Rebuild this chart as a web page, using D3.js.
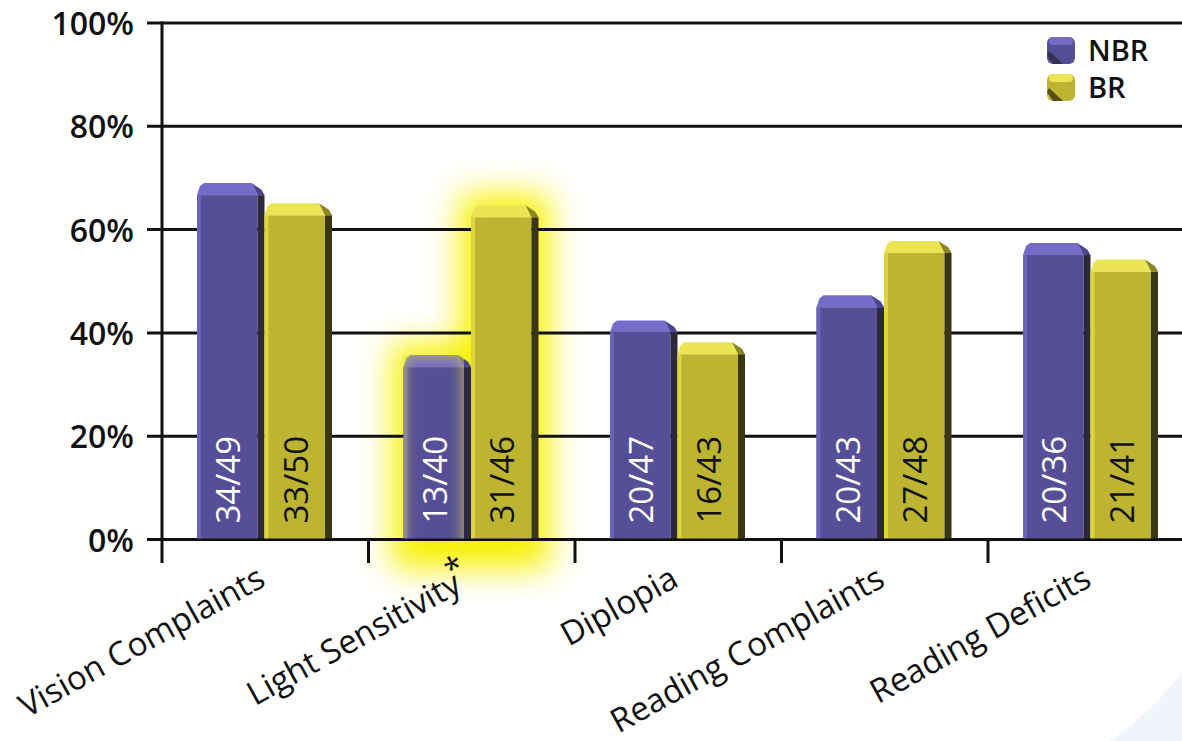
<!DOCTYPE html>
<html><head><meta charset="utf-8">
<script src="https://cdn.jsdelivr.net/npm/d3@7"></script>
<style>html,body{margin:0;padding:0;background:#fff;} svg{display:block;}</style>
</head><body>
<svg id="chart" width="1182" height="741"></svg>
<script>
// ---- data ----
const categories = ["Vision Complaints", "Light Sensitivity", "Diplopia", "Reading Complaints", "Reading Deficits"];
const categorySuffix = ["", "*", "", "", ""];
const series = ["NBR", "BR"];
const nbrValues = [69.0, 35.7, 42.4, 47.3, 57.4];
const brValues  = [65.1, 64.7, 38.2, 57.8, 54.2];
const nbrLabels = ["34/49", "13/40", "20/47", "20/43", "20/36"];
const brLabels  = ["33/50", "31/46", "16/43", "27/48", "21/41"];
const yTicks = [0, 20, 40, 60, 80, 100];
const highlighted = ["Light Sensitivity"];

// ---- setup ----
const W = 1182, H = 741;
const svg = d3.select("#chart");
const defs = svg.append("defs");
const FONT = "'Open Sans', 'Noto Sans', sans-serif";

const gf = defs.append("filter").attr("id", "glow")
  .attr("x", "-80%").attr("y", "-40%").attr("width", "260%").attr("height", "180%");
gf.append("feMorphology").attr("operator", "dilate").attr("radius", 11).attr("in", "SourceGraphic").attr("result", "d");
gf.append("feGaussianBlur").attr("in", "d").attr("stdDeviation", 16);

const sf = defs.append("filter").attr("id", "soft").attr("x", "-20%").attr("y", "-20%").attr("width", "140%").attr("height", "140%");
sf.append("feGaussianBlur").attr("stdDeviation", 6);

const x = d3.scaleBand().domain(categories).range([162, 162 + 5 * 206.5]).padding(0);
const xi = d3.scaleBand().domain(series).range([35, 170]).padding(0);
const y = d3.scaleLinear().domain([0, 100]).range([539.5, 23]);

const palettes = {
  NBR: {front: "#564f97", left: "#6b63b7", top: "#746cc6", side: "#2c2a3a", corner: "#4b4590", text: "#ffffff"},
  BR:  {front: "#bdb532", left: "#ddd53c", top: "#ebe454", side: "#393612", corner: "#8d8620", text: "#111111"}
};
const valuesOf = s => s === "NBR" ? nbrValues : brValues;
const labelsOf = s => s === "NBR" ? nbrLabels : brLabels;

// background swoosh (decoration)
svg.append("path")
  .attr("d", "M1182,672 C1165,695 1140,720 1110,741 L1182,741 Z")
  .attr("fill", "#f1f5fb");

// ---- glow behind highlighted group ----
const glowG = svg.append("g").attr("filter", "url(#glow)");
categories.forEach((c, i) => {
  if (!highlighted.includes(c)) return;
  series.forEach(s => {
    const v = valuesOf(s)[i];
    glowG.append("rect")
      .attr("x", x(c) + xi(s)).attr("y", y(v))
      .attr("width", xi.bandwidth()).attr("height", y(0) - y(v) + 18)
      .attr("fill", "#f8f000");
  });
});

// ---- gridlines ----
const grid = svg.append("g");
grid.selectAll("line").data(yTicks).join("line")
  .attr("x1", 147).attr("x2", W)
  .attr("y1", d => y(d)).attr("y2", d => y(d))
  .attr("stroke", "#111").attr("stroke-width", 3);

// y axis vertical line
svg.append("line").attr("x1", 162).attr("x2", 162).attr("y1", y(100) - 1.5).attr("y2", 563)
  .attr("stroke", "#111").attr("stroke-width", 3);

// category boundary ticks
svg.append("g").selectAll("line").data(categories.slice(1).concat(["__end"])).join("line")
  .attr("x1", d => d === "__end" ? x.range()[1] : x(d))
  .attr("x2", d => d === "__end" ? x.range()[1] : x(d))
  .attr("y1", y(0)).attr("y2", 563)
  .attr("stroke", "#111").attr("stroke-width", 3);

// y axis labels
const yAxis = svg.append("g").attr("transform", "translate(162,0)")
  .call(d3.axisLeft(y).tickValues(yTicks).tickFormat(d => d + "%").tickSize(0).tickPadding(28));
yAxis.select(".domain").remove();
yAxis.selectAll("text")
  .attr("font-family", FONT).attr("font-weight", 600).attr("font-size", 32)
  .attr("fill", "#111").attr("dy", "0.36em");

// ---- bars ----
const BEV = 12, SIDE = 7;
function drawBar(g, x0, w, t, b, p) {
  const fw = w - SIDE;
  g.append("rect").attr("x", x0).attr("y", t + BEV).attr("width", fw).attr("height", b - t - BEV).attr("fill", p.front);
  g.append("rect").attr("x", x0).attr("y", t + BEV).attr("width", 4).attr("height", b - t - BEV).attr("fill", p.left);
  g.append("rect").attr("x", x0 + fw).attr("y", t + BEV).attr("width", SIDE).attr("height", b - t - BEV).attr("fill", p.side);
  g.append("polygon")
    .attr("points", [[x0, t + BEV], [x0 + 3, t + 3], [x0 + 7, t], [x0 + fw - 6, t], [x0 + fw, t + BEV]].map(q => q.join(",")).join(" "))
    .attr("fill", p.top);
  g.append("polygon")
    .attr("points", [[x0 + fw - 6, t], [x0 + w - 3, t + BEV * 0.55], [x0 + w, t + BEV], [x0 + fw, t + BEV]].map(q => q.join(",")).join(" "))
    .attr("fill", p.corner);
}

const barsG = svg.append("g");
categories.forEach((c, i) => {
  const g = barsG.append("g");
  series.forEach(s => {
    const v = valuesOf(s)[i];
    const x0 = x(c) + xi(s), w = xi.bandwidth();
    drawBar(g, x0, w, y(v), y(0), palettes[s]);
    if (highlighted.includes(c) && s === "NBR") {
      const cid = "clip" + i;
      defs.append("clipPath").attr("id", cid).append("rect")
        .attr("x", x0).attr("y", y(v)).attr("width", w - SIDE).attr("height", y(0) - y(v));
      g.append("g").attr("clip-path", `url(#${cid})`).append("rect")
        .attr("x", x0 - 4).attr("y", y(v) - 4).attr("width", w - SIDE + 8).attr("height", y(0) - y(v) + 30)
        .attr("fill", "none").attr("stroke", "#e6df3a").attr("stroke-width", 14)
        .attr("opacity", 0.55).attr("filter", "url(#soft)");
    }
  });
  series.forEach(s => {
    const x0 = x(c) + xi(s), w = xi.bandwidth();
    const cx = x0 + (w - SIDE) / 2 + 1, by = y(0) - 16;
    g.append("text")
      .attr("transform", `translate(${cx},${by}) rotate(-90)`)
      .attr("dy", "0.36em")
      .attr("font-family", FONT).attr("font-size", 33)
      .attr("fill", palettes[s].text)
      .text(labelsOf(s)[i]);
  });
});

// baseline on top
svg.append("line").attr("x1", 147).attr("x2", W).attr("y1", y(0)).attr("y2", y(0))
  .attr("stroke", "#111").attr("stroke-width", 2);

// ---- x axis labels ----
const xAxis = svg.append("g").attr("transform", "translate(0,0)")
  .call(d3.axisBottom(x).tickSize(0));
xAxis.select(".domain").remove();
xAxis.selectAll("text")
  .attr("y", null).attr("dy", null)
  .attr("text-anchor", "end")
  .attr("transform", "translate(2,585) rotate(-29)")
  .attr("font-family", FONT).attr("font-size", 33).attr("fill", "#111")
  .each(function(d) {
    const suf = categorySuffix[categories.indexOf(d)];
    if (suf) {
      d3.select(this).append("tspan").attr("dy", "-0.4em").attr("dx", "-0.18em").attr("font-size", 32).text(suf);
    }
  });

// ---- legend ----
const legend = svg.append("g").attr("transform", "translate(1047,37)");
series.forEach((s, j) => {
  const p = palettes[s];
  const g = legend.append("g").attr("transform", `translate(0,${j * 37})`);
  g.append("rect").attr("x", 0).attr("y", 0).attr("width", 28).attr("height", 27).attr("rx", 6).attr("fill", p.front);
  g.append("rect").attr("x", 2).attr("y", 0).attr("width", 24).attr("height", 8).attr("rx", 4).attr("fill", p.top);
  g.append("polygon").attr("points", "0,18 6,27 16,27 2,14").attr("fill", p.side).attr("opacity", 0.8);
  g.append("text").attr("x", 41).attr("y", 14).attr("dy", "0.36em")
    .attr("font-family", FONT).attr("font-weight", 600).attr("font-size", 29).attr("fill", "#111")
    .text(s);
});
</script>
</body></html>
